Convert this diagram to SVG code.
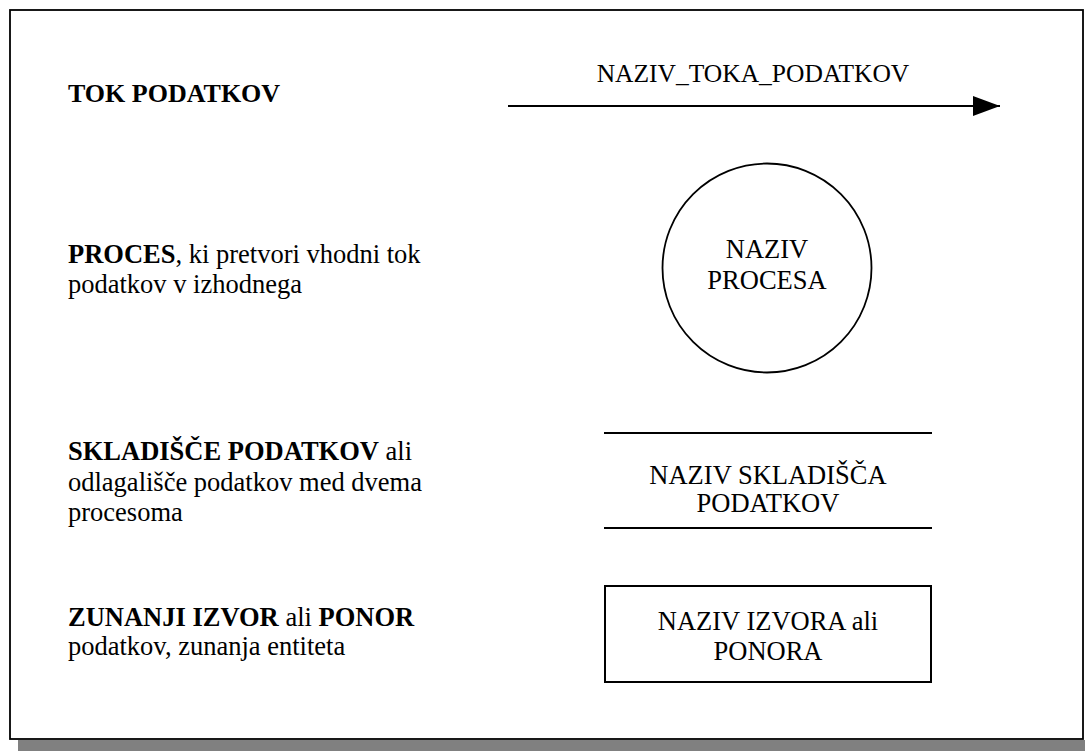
<svg xmlns="http://www.w3.org/2000/svg" width="1085" height="751" viewBox="0 0 1085 751">
<style>
text{font-family:'Liberation Serif','Times New Roman',serif;font-size:26.5px;fill:#000}
.b{font-weight:bold}
.c{text-anchor:middle}
.s{fill:none;stroke:#000;stroke-width:2}
</style>
<defs>
<marker id="ah" markerUnits="userSpaceOnUse" markerWidth="28" markerHeight="22" refX="27" refY="11" orient="auto">
<path d="M0,1 L27,11 L0,21 Z" fill="#000"/>
</marker>
</defs>
<rect x="0" y="0" width="1085" height="751" fill="#fff"/>
<rect x="18" y="740" width="1067" height="11" fill="#808080"/>
<rect x="10" y="10" width="1073" height="729" fill="#fff" stroke="#000" stroke-width="1.8"/>
<g id="legend-flow">
<text class="b" x="68" y="102" style="font-size:26px">TOK PODATKOV</text>
</g>
<g id="legend-process">
<text x="68" y="263"><tspan class="b">PROCES</tspan>, ki pretvori vhodni tok</text>
<text x="68" y="293">podatkov v izhodnega</text>
</g>
<g id="legend-store">
<text x="68" y="460"><tspan class="b">SKLADIŠČE PODATKOV</tspan> ali</text>
<text x="68" y="491">odlagališče podatkov med dvema</text>
<text x="68" y="521">procesoma</text>
</g>
<g id="legend-entity">
<text x="68" y="626"><tspan class="b">ZUNANJI IZVOR</tspan> ali <tspan class="b">PONOR</tspan></text>
<text x="68" y="655">podatkov, zunanja entiteta</text>
</g>
<g id="connectors">
<line class="s" x1="508" y1="106" x2="1000" y2="106" marker-end="url(#ah)"/>
<text class="c" x="753" y="82" style="font-size:25.5px">NAZIV_TOKA_PODATKOV</text>
</g>
<g id="process">
<circle cx="767" cy="268" r="104.5" fill="none" stroke="#000" stroke-width="1.8"/>
<text class="c" x="767" y="258">NAZIV</text>
<text class="c" x="767" y="289">PROCESA</text>
</g>
<g id="store">
<line class="s" x1="604" y1="433" x2="932" y2="433"/>
<line class="s" x1="604" y1="528" x2="932" y2="528"/>
<text class="c" x="768" y="484">NAZIV SKLADIŠČA</text>
<text class="c" x="768" y="512">PODATKOV</text>
</g>
<g id="entity">
<rect class="s" x="605" y="586" width="326" height="96"/>
<text class="c" x="768" y="630">NAZIV IZVORA ali</text>
<text class="c" x="768" y="660">PONORA</text>
</g>
</svg>
